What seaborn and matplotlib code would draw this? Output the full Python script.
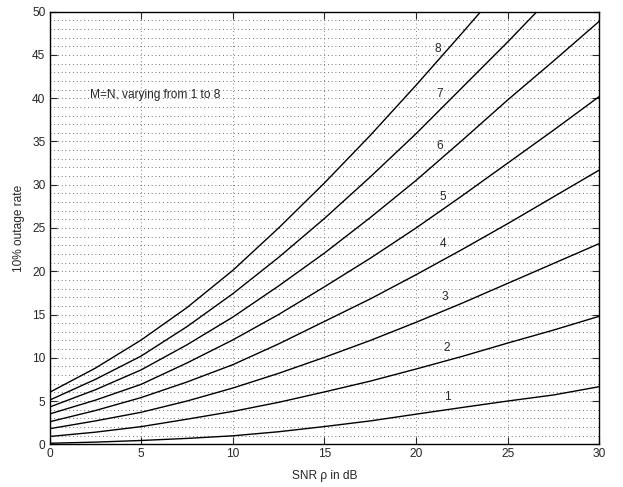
import numpy as np
import pandas as pd
import matplotlib
matplotlib.use("Agg")
import matplotlib.pyplot as plt
from matplotlib.ticker import MultipleLocator
import seaborn as sns

# SNR points (dB)
snr = [0, 2.5, 5, 7.5, 10, 12.5, 15, 17.5, 20, 22.5, 25, 27.5, 30]

# 10% outage rate for M=N = 1..8 (values past 50 are clipped by the axes)
rate_1 = [0.12, 0.25, 0.44, 0.68, 0.98, 1.45, 2.05, 2.7, 3.48, 4.25, 5.0, 5.7, 6.66]
rate_2 = [0.9, 1.4, 2.04, 2.9, 3.8, 4.85, 6.05, 7.3, 8.7, 10.15, 11.7, 13.2, 14.8]
rate_3 = [1.8, 2.7, 3.7, 5.0, 6.5, 8.2, 10.05, 12.0, 14.1, 16.3, 18.6, 20.9, 23.2]
rate_4 = [2.6, 3.9, 5.4, 7.2, 9.2, 11.6, 14.2, 16.8, 19.6, 22.5, 25.5, 28.6, 31.7]
rate_5 = [3.5, 5.1, 6.93, 9.4, 12.06, 15.0, 18.2, 21.5, 25.0, 28.7, 32.5, 36.3, 40.2]
rate_6 = [4.3, 6.3, 8.6, 11.5, 14.7, 18.3, 22.1, 26.2, 30.5, 35.1, 39.8, 44.3, 48.9]
rate_7 = [5.1, 7.5, 10.2, 13.6, 17.4, 21.6, 26.1, 30.9, 35.9, 41.2, 46.5, 52.0, 57.6]
rate_8 = [6.0, 8.8, 12.05, 15.8, 20.1, 25.0, 30.2, 35.7, 41.5, 47.5, 53.6, 59.8, 66.0]

rates = [rate_1, rate_2, rate_3, rate_4, rate_5, rate_6, rate_7, rate_8]

# where the curve labels sit
label_x = [21.72, 21.7, 21.58, 21.45, 21.45, 21.3, 21.3, 21.18]
label_y = [5.5, 11.17, 17.06, 23.2, 28.6, 34.5, 40.45, 45.65]

df = pd.DataFrame({
    "snr": np.tile(snr, len(rates)),
    "rate": np.concatenate(rates),
    "M": np.repeat([str(i + 1) for i in range(len(rates))], len(snr)),
})

sns.set_style("ticks")
plt.rcParams["font.family"] = ["Liberation Sans", "DejaVu Sans"]
fs = 8.6

fig = plt.figure(figsize=(6.23, 4.87), dpi=100)
ax = fig.add_axes([0.0795, 0.0877, 0.8825, 0.8883])

# dotted grid: horizontal every 1, vertical only at majors
for yv in range(1, 50):
    ax.axhline(yv, color="0.25", lw=0.6, ls=(0, (1, 3.5)), zorder=0)
for xv in range(5, 30, 5):
    ax.axvline(xv, color="0.35", lw=0.6, ls=(0, (1, 3.5)), zorder=0)

sns.lineplot(data=df, x="snr", y="rate", hue="M", palette=["black"] * 8,
             lw=1.0, legend=False, ax=ax, zorder=3)

for i in range(len(rates)):
    ax.text(label_x[i], label_y[i], str(i + 1), fontsize=fs, ha="center", va="center")

ax.text(2.2, 40.4, "M=N, varying from 1 to 8", fontsize=fs, ha="left", va="center")

ax.set_xlim(0, 30)
ax.set_ylim(0, 50)
ax.xaxis.set_major_locator(MultipleLocator(5))
ax.yaxis.set_major_locator(MultipleLocator(5))
ax.tick_params(direction="in", length=5, width=0.8, top=True, right=True,
               labelsize=fs, pad=3)
for s in ax.spines.values():
    s.set_linewidth(1.0)
    s.set_color("black")

ax.set_xlabel("SNR ρ in dB", fontsize=fs, labelpad=7)
ax.set_ylabel("10% outage rate", fontsize=fs, labelpad=5)

fig.savefig("out.png", dpi=100)
